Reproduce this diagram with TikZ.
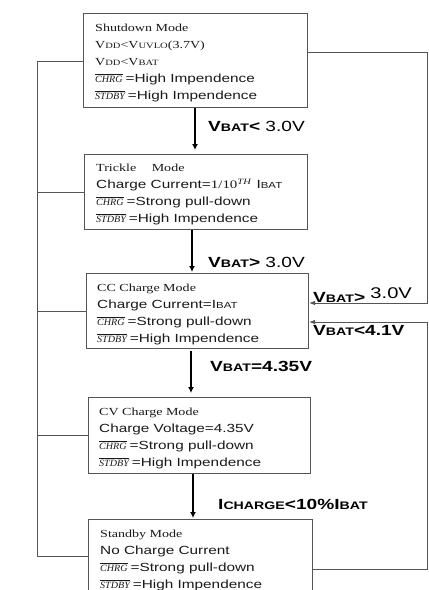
\documentclass[tikz,border=0pt]{standalone}
\usepackage{fontspec}
\setmainfont{Liberation Serif}
\newfontfamily\ars[FakeStretch=1.3]{Liberation Sans}
\newfontfamily\tnr[FakeStretch=1.3]{Liberation Serif}
\newfontfamily\tnri[FakeStretch=1.05]{Liberation Serif}
\usetikzlibrary{arrows.meta}
\definecolor{linec}{HTML}{555555}
\definecolor{txtc}{HTML}{1A1A1A}
\newcommand\smT[1]{{\fontsize{8.1}{10}\selectfont #1}}
\newcommand\smA[1]{{\fontsize{8.8}{10}\selectfont #1}}
\newcommand\smL[1]{{\fontsize{10.9}{12}\selectfont #1}}
\newcommand\ovl[1]{\vbox{\hrule height 0.6pt\kern 1.3pt\hbox{\tnri\itshape\fontsize{9.6}{10}\selectfont #1}}\hspace{3pt}}
\tikzset{
  box/.style={draw=linec, line width=1pt, rectangle, inner sep=0pt, anchor=north west},
  tl/.style={anchor=base west, inner sep=0pt, text=txtc, font=\tnr\fontsize{10.8}{13}\selectfont},
  al/.style={anchor=base west, inner sep=0pt, text=txtc, font=\ars\fontsize{11.8}{13}\selectfont},
  lab/.style={anchor=base west, inner sep=0pt, text=black, font=\ars\bfseries\fontsize{14.7}{16}\selectfont},
  flow/.style={-{Latex[length=6pt,width=6pt]}, line width=1.3pt, draw=black},
  link/.style={draw=linec, line width=1pt},
  back/.style={link, -{Latex[length=6pt,width=4.5pt]}},
}
\begin{document}
\begin{tikzpicture}[x=1pt,y=-1pt]
\useasboundingbox (0,0) rectangle (429,590);
\fill[white] (0,0) rectangle (429,590);
\clip (0,0) rectangle (429,590);

% boxes
\node[box, minimum width=224pt, minimum height=94pt] (sd) at (83,13) {};
\node[box, minimum width=223pt, minimum height=75pt] (tr) at (84,154) {};
\node[box, minimum width=222pt, minimum height=75pt] (cc) at (86,273) {};
\node[box, minimum width=222pt, minimum height=76pt] (cv) at (88,397) {};
\node[box, minimum width=224pt, minimum height=90pt] (sb) at (88,519) {};

% shutdown text
\node[tl] (sd1) at (95,31.5) {Shutdown Mode};
\node[tl] (sd2) at (95,48.5) {V\smT{DD}<V\smT{UVLO}(3.7V)};
\node[tl] (sd3) at (95,65.5) {V\smT{DD}<V\smT{BAT}};
\node[al] (sd4) at (95,82.5) {\ovl{CHRG}=High Impendence};
\node[al] (sd5) at (95,99.5) {\ovl{STDBY}=High Impendence};

% trickle text
\node[tl] (tr1) at (96,171) {Trickle\hspace{12pt} Mode};
\node[al] (tr2) at (96,188.5) {Charge Current={\tnr\fontsize{11.5}{13}\selectfont 1/10\textsuperscript{\itshape TH}}\hspace{1pt} I\smA{BAT}};
\node[al] (tr3) at (96,205.5) {\ovl{CHRG}=Strong pull-down};
\node[al] (tr4) at (96,222.5) {\ovl{STDBY}=High Impendence};

% CC text
\node[tl] (cc1) at (97,291) {CC Charge Mode};
\node[al] (cc2) at (97,308) {Charge Current=I\smA{BAT}};
\node[al] (cc3) at (97,325) {\ovl{CHRG}=Strong pull-down};
\node[al] (cc4) at (97,342) {\ovl{STDBY}=High Impendence};

% CV text
\node[tl] (cv1) at (99,415) {CV Charge Mode};
\node[al] (cv2) at (99,432) {Charge Voltage=4.35V};
\node[al] (cv3) at (99,449.5) {\ovl{CHRG}=Strong pull-down};
\node[al] (cv4) at (99,466) {\ovl{STDBY}=High Impendence};

% standby text
\node[tl] (sb1) at (100,537) {Standby Mode};
\node[al] (sb2) at (100,554) {No Charge Current};
\node[al] (sb3) at (100,571) {\ovl{CHRG}=Strong pull-down};
\node[al] (sb4) at (100,588) {\ovl{STDBY}=High Impendence};

% main flow arrows
\coordinate (a1) at (195,0);
\coordinate (a2) at (192,0);
\coordinate (a3) at (191,0);
\coordinate (a4) at (193,0);
\draw[flow, shorten >=4pt] (a1 |- sd.south) -- (a1 |- tr.north);
\draw[flow, shorten >=1pt] (a2 |- tr.south) -- (a2 |- cc.north);
\draw[flow, shorten <=2pt, shorten >=4pt] (a3 |- cc.south) -- (a3 |- cv.north);
\draw[flow, shorten >=1pt] (a4 |- cv.south) -- (a4 |- sb.north);

% left bus
\coordinate (L1) at (37,61);
\coordinate (L2) at (37,192);
\coordinate (L3) at (37,311);
\coordinate (L4) at (37,435);
\coordinate (L5) at (37,556);
\draw[link] (L1 -| sd.west) -- (L1) -- (L5) -- (L5 -| sb.west);
\draw[link] (L2) -- (L2 -| tr.west);
\draw[link] (L3) -- (L3 -| cc.west);
\draw[link] (L4) -- (L4 -| cv.west);

% right return paths
\coordinate (R1) at (427,52);
\coordinate (R2) at (427,303);
\coordinate (R3) at (427,322);
\coordinate (R4) at (427,569);
\draw[back] (R1 -| sd.east) -- (R1) -- (R2) -- (R2 -| cc.east);
\draw[back] (R4 -| sb.east) -- (R4) -- (R3) -- (R3 -| cc.east);

% labels
\node[lab] (t1) at (208,131) {V\smL{BAT}<{\mdseries\ 3.0V}};
\node[lab] (t2) at (208,267) {V\smL{BAT}>{\mdseries\ 3.0V}};
\node[lab] (t3) at (313,302) {V\smL{BAT}>{\mdseries\ \raisebox{3.5pt}{\fontsize{15.5}{16}\selectfont 3.0V}}};
\node[lab] (t4) at (313,335) {V\smL{BAT}<4.1V};
\node[lab] (t5) at (210,371) {V\smL{BAT}=4.35V};
\node[lab] (t6) at (218,509) {I\smL{CHARGE}<10\%I\smL{BAT}};
\end{tikzpicture}
\end{document}
